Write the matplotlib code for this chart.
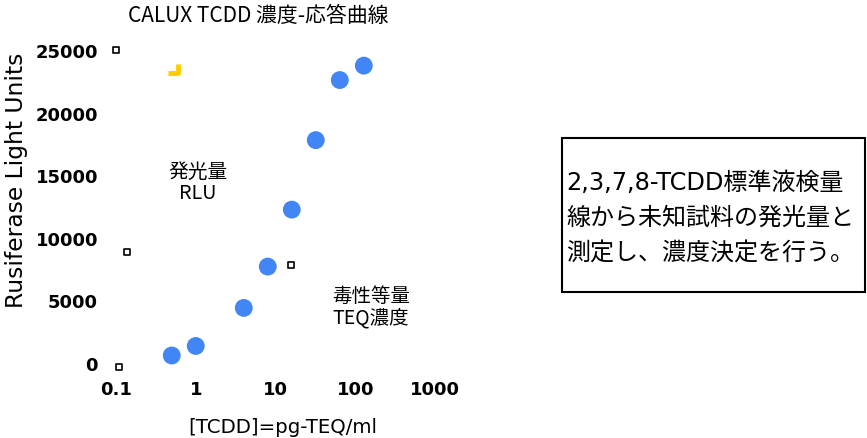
import matplotlib
matplotlib.use("Agg")
import matplotlib.pyplot as plt
from matplotlib.patches import Rectangle
from matplotlib.path import Path

plt.rcParams['font.family'] = ['Noto Sans CJK JP', 'DejaVu Sans']

# Standard curve: TCDD concentration (pg-TEQ/ml) vs luminescence (RLU)
conc = [0.5, 1, 4, 8, 16, 32, 64, 128]
rlu = [600, 1360, 4400, 7700, 12250, 17800, 22600, 23750]

# Small stray marks scattered on the plot area
stray_x = [0.1, 0.137, 0.109, 15.8]
stray_y = [25000, 8870, -300, 7830]
yellow_x = [0.546]
yellow_y = [23400]

xticks = [0.1, 1, 10, 100, 1000]
xtick_labels = ['0.1', '1', '10', '100', '1000']
yticks = [0, 5000, 10000, 15000, 20000, 25000]
ytick_labels = ['0', '5000', '10000', '15000', '20000', '25000']

W, H = 867, 439
fig = plt.figure(figsize=(W / 100, H / 100), dpi=100)


def fx(px):
    return px / W


def fy(py):
    return 1 - py / H


ax = fig.add_axes([fx(116), fy(364), (435 - 116) / W, (364 - 51) / H])
ax.set_xscale('log')
ax.set_xlim(0.1, 1000)
ax.set_ylim(0, 25000)

ax.scatter(conc, rlu, s=165, color='#4285f4', edgecolors='none', zorder=3, clip_on=False)
ax.scatter(stray_x, stray_y, s=14, marker='s', facecolor='white', edgecolors='black',
           linewidths=1.2, zorder=3, clip_on=False)
hook = Path([(-1.0, -0.4), (0.5, -0.4), (0.5, 0.9)],
            [Path.MOVETO, Path.LINETO, Path.LINETO])
ax.plot(yellow_x, yellow_y, linestyle='none', marker=hook, markersize=10, fillstyle='none',
        markeredgewidth=3.5, color='#ffcc00', zorder=3, clip_on=False)

ax.set_xticks(xticks)
ax.set_xticklabels(xtick_labels)
ax.xaxis.set_minor_locator(matplotlib.ticker.NullLocator())
ax.set_yticks(yticks)
ax.set_yticklabels(ytick_labels)
for lab in ax.get_xticklabels() + ax.get_yticklabels():
    lab.set_fontfamily('DejaVu Sans')
    lab.set_fontweight('bold')
    lab.set_fontsize(13)
ax.tick_params(axis='both', length=0)
ax.tick_params(axis='x', pad=12)
ax.tick_params(axis='y', pad=13)
for sp in ax.spines.values():
    sp.set_visible(False)
ax.patch.set_alpha(0)

fig.text(fx(258), fy(16), 'CALUX TCDD 濃度-応答曲線', ha='center', va='center', fontsize=15)
fig.text(fx(283), fy(428), '[TCDD]=pg-TEQ/ml', ha='center', va='center', fontsize=14.2,
         family=['DejaVu Sans'])
fig.text(fx(17), fy(180), 'Rusiferase Light Units', ha='center', va='center', rotation=90,
         fontsize=16.8, family=['DejaVu Sans'])

fig.text(fx(198), fy(183), '発光量\nRLU', ha='center', va='center', fontsize=14.2,
         linespacing=1.05)
fig.text(fx(371), fy(307), '毒性等量\nTEQ濃度', ha='center', va='center', fontsize=14,
         linespacing=1.05)

box = Rectangle((fx(562), fy(293)), fx(865) - fx(562), fy(139) - fy(293),
                transform=fig.transFigure, facecolor='white', edgecolor='black', linewidth=1.5)
fig.patches.append(box)
fig.text(fx(566), fy(218),
         '2,3,7,8-TCDD標準液検量\n線から未知試料の発光量と\n測定し、濃度決定を行う。',
         ha='left', va='center', fontsize=17.3, linespacing=1.6,
         family=['DejaVu Sans', 'Noto Sans CJK JP'])

fig.savefig('out.png', dpi=100)
